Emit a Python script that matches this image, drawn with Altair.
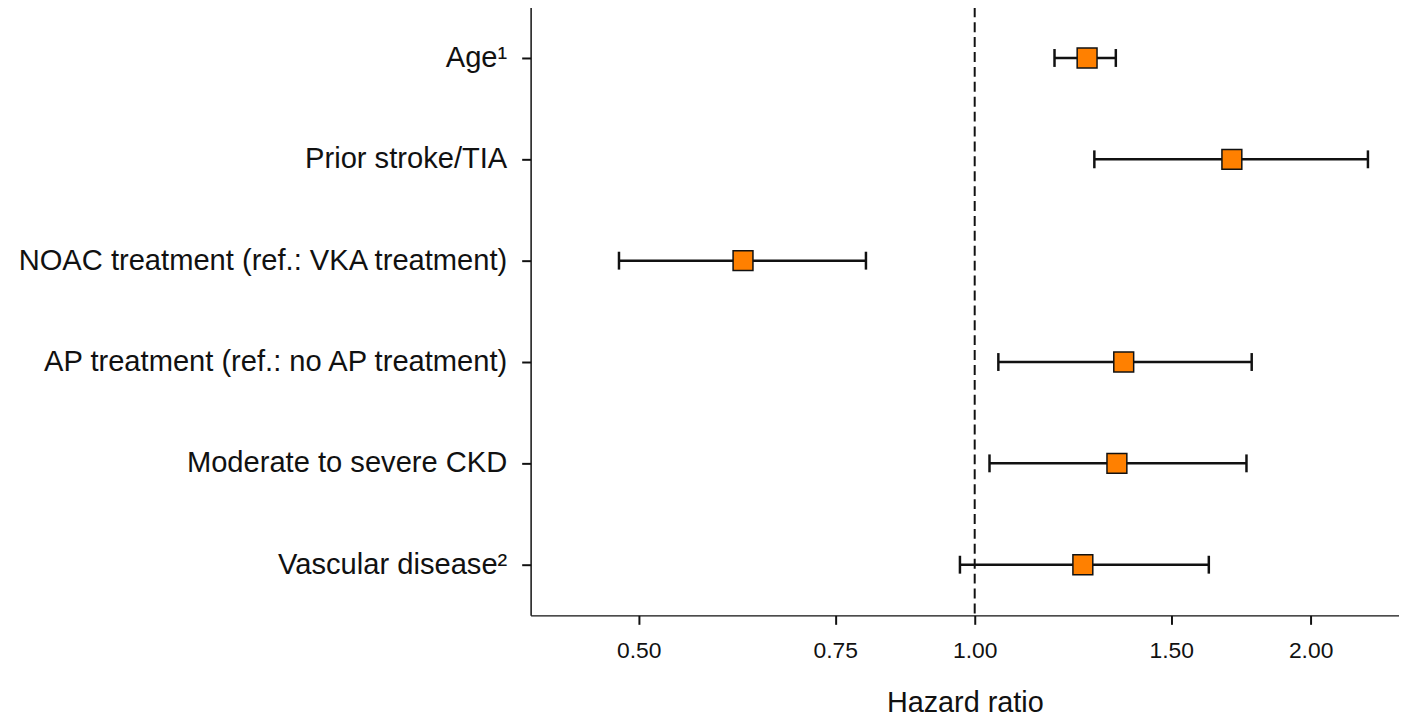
import altair as alt
import pandas as pd

labels = [
    "Age\u00b9",
    "Prior stroke/TIA",
    "NOAC treatment (ref.: VKA treatment)",
    "AP treatment (ref.: no AP treatment)",
    "Moderate to severe CKD",
    "Vascular disease\u00b2",
]
hr = [1.261, 1.700, 0.620, 1.360, 1.341, 1.250]
lo = [1.179, 1.280, 0.480, 1.050, 1.031, 0.970]
hi = [1.338, 2.251, 0.799, 1.771, 1.752, 1.621]
tick_values = [0.5, 0.75, 1.0, 1.5, 2.0]
ref_line = [1.0]

df = pd.DataFrame({"label": labels, "hr": hr, "lo": lo, "hi": hi})
ref_df = pd.DataFrame({"x": ref_line})

FONT = "Liberation Sans"
INK = "#111"

xscale = alt.Scale(type="log", domain=[0.4, 2.4], nice=False, zero=False)
yenc = alt.Y(
    "label:N",
    sort=labels,
    scale=alt.Scale(paddingInner=0, paddingOuter=0),
    axis=alt.Axis(
        title=None,
        labelFontSize=29.3,
        labelFont=FONT,
        labelColor=INK,
        labelPadding=15,
        tickSize=9,
        tickWidth=2,
        tickColor=INK,
        domainColor=INK,
        domainWidth=1.5,
        labelLimit=800,
        grid=False,
    ),
)
xaxis = alt.Axis(
    title="Hazard ratio",
    values=tick_values,
    format=".2f",
    labelFontSize=23,
    labelFont=FONT,
    labelColor=INK,
    labelPadding=15,
    tickSize=9,
    tickWidth=2,
    tickColor=INK,
    domainColor=INK,
    domainWidth=1.5,
    titleFontSize=29,
    titleFont=FONT,
    titleFontWeight="normal",
    titleColor=INK,
    titlePadding=27,
    grid=False,
)

base = alt.Chart(df)

ref = alt.Chart(ref_df).mark_rule(
    color=INK, strokeWidth=2, strokeDash=[10, 5]
).encode(x=alt.X("x:Q", scale=xscale, axis=xaxis))

bars = base.mark_rule(color=INK, strokeWidth=2.5).encode(
    x=alt.X("lo:Q", scale=xscale, axis=xaxis),
    x2="hi:Q",
    y=yenc,
)
cap_lo = base.mark_tick(color=INK, size=18, thickness=2.5, opacity=1).encode(
    x=alt.X("lo:Q", scale=xscale, axis=xaxis), y=alt.Y("label:N", sort=labels)
)
cap_hi = base.mark_tick(color=INK, size=18, thickness=2.5, opacity=1).encode(
    x=alt.X("hi:Q", scale=xscale, axis=xaxis), y=alt.Y("label:N", sort=labels)
)
pts = base.mark_square(
    size=400, fill="#FF8000", stroke="#111", strokeWidth=1.5, opacity=1, fillOpacity=1
).encode(x=alt.X("hr:Q", scale=xscale, axis=xaxis), y=alt.Y("label:N", sort=labels))

chart = (
    alt.layer(ref, bars, cap_lo, cap_hi, pts)
    .properties(
        width=874,
        height=612,
        background="white",
        padding={"left": 8, "right": 0, "top": -4, "bottom": 0},
    )
    .configure_view(stroke="transparent", strokeWidth=0)
    .configure_axis(grid=False)
)

chart.save("out.html", embed_options={"renderer": "svg", "actions": False})
